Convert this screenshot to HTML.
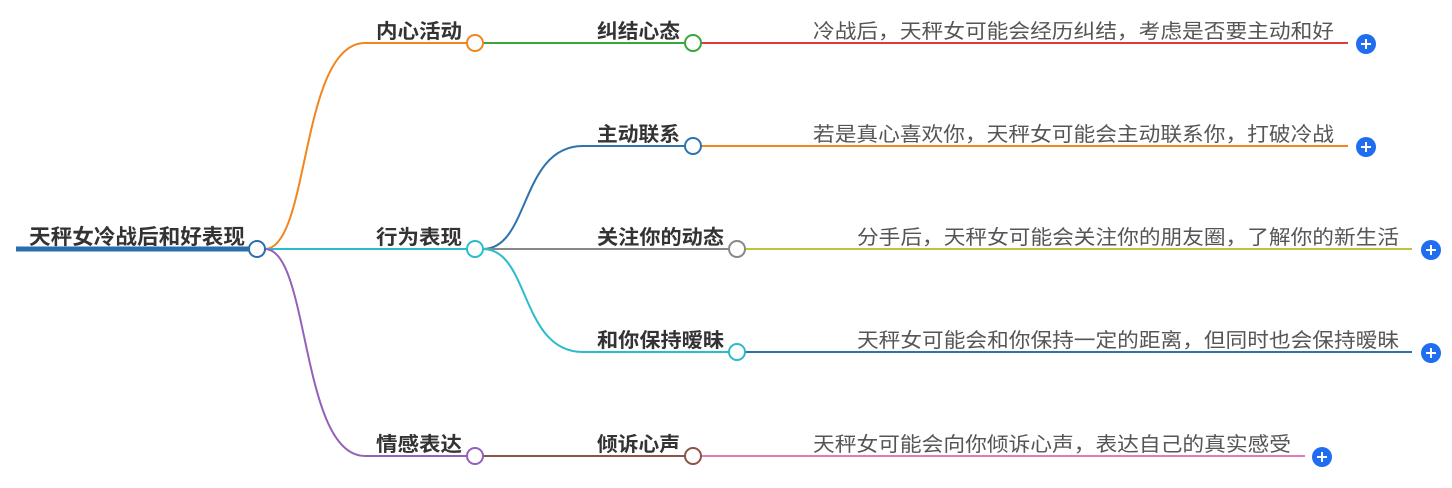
<!DOCTYPE html>
<html><head><meta charset="utf-8"><style>
html,body{margin:0;padding:0;background:#fff;width:1452px;height:488px;overflow:hidden}
svg{display:block}
.b{font-family:"Liberation Sans","Noto Sans CJK SC",sans-serif;font-weight:bold;fill:#333;font-size:20px}
.n{font-family:"Liberation Sans","Noto Sans CJK SC",sans-serif;fill:#555;font-size:20px}
</style></head><body>
<svg width="1452" height="488" viewBox="0 0 1452 488" xmlns="http://www.w3.org/2000/svg">
<g fill="none" stroke-width="2">
<line x1="16" y1="249" x2="252" y2="249" stroke="#2a6ead" stroke-width="5"/>
<path d="M265 249 C310 249 300 43 365 43 L467 43" stroke="#f0861e"/>
<path d="M265 249 L467 249" stroke="#2bbccb"/>
<path d="M265 249 C310 249 300 456 365 456 L467 456" stroke="#9560b8"/>
<path d="M483 43 L685 43" stroke="#3aa53a"/>
<path d="M483 249 C530 249 520 146 583 146 L685 146" stroke="#2e72ae"/>
<path d="M483 249 L729 249" stroke="#888"/>
<path d="M483 249 C530 249 520 352 583 352 L729 352" stroke="#2bbccb"/>
<path d="M483 456 L685 456" stroke="#8a5548"/>
<path d="M701 43 L1348 43" stroke="#e03a3e"/>
<path d="M701 146 L1348 146" stroke="#f0861e"/>
<path d="M745 249 L1412 249" stroke="#bfc23c"/>
<path d="M745 352 L1412 352" stroke="#2e72ae"/>
<path d="M701 456 L1305 456" stroke="#e57ab8"/>
</g>
<g fill="#fff" stroke-width="2">
<circle cx="257" cy="249" r="8" stroke="#2a6ead"/>
<circle cx="475" cy="43" r="8" stroke="#f0861e"/>
<circle cx="475" cy="249" r="8" stroke="#2bbccb"/>
<circle cx="475" cy="456" r="8" stroke="#9560b8"/>
<circle cx="693" cy="43" r="8" stroke="#3aa53a"/>
<circle cx="693" cy="146" r="8" stroke="#2e72ae"/>
<circle cx="737" cy="249" r="8" stroke="#888"/>
<circle cx="737" cy="352" r="8" stroke="#2bbccb"/>
<circle cx="693" cy="456" r="8" stroke="#8a5548"/>
</g>
<g>
<g transform="translate(1366,44)"><circle r="10" fill="#1f6ef0"/><path d="M-5 0H5M0 -5V5" stroke="#fff" stroke-width="2"/></g>
<g transform="translate(1366,147)"><circle r="10" fill="#1f6ef0"/><path d="M-5 0H5M0 -5V5" stroke="#fff" stroke-width="2"/></g>
<g transform="translate(1431,250)"><circle r="10" fill="#1f6ef0"/><path d="M-5 0H5M0 -5V5" stroke="#fff" stroke-width="2"/></g>
<g transform="translate(1431,353)"><circle r="10" fill="#1f6ef0"/><path d="M-5 0H5M0 -5V5" stroke="#fff" stroke-width="2"/></g>
<g transform="translate(1322,457)"><circle r="10" fill="#1f6ef0"/><path d="M-5 0H5M0 -5V5" stroke="#fff" stroke-width="2"/></g>
</g>
<text class="b" x="29" y="244" textLength="216" lengthAdjust="spacingAndGlyphs" style="font-size:21px">天秤女冷战后和好表现</text>
<text class="b" x="376" y="38" textLength="86" lengthAdjust="spacingAndGlyphs">内心活动</text>
<text class="b" x="376" y="244" textLength="86" lengthAdjust="spacingAndGlyphs">行为表现</text>
<text class="b" x="376" y="451" textLength="86" lengthAdjust="spacingAndGlyphs">情感表达</text>
<text class="b" x="597" y="38" textLength="83" lengthAdjust="spacingAndGlyphs">纠结心态</text>
<text class="b" x="597" y="141" textLength="83" lengthAdjust="spacingAndGlyphs">主动联系</text>
<text class="b" x="597" y="244" textLength="127" lengthAdjust="spacingAndGlyphs">关注你的动态</text>
<text class="b" x="597" y="347" textLength="127" lengthAdjust="spacingAndGlyphs">和你保持暧昧</text>
<text class="b" x="597" y="451" textLength="83" lengthAdjust="spacingAndGlyphs">倾诉心声</text>
<text class="n" x="813" y="38" textLength="521" lengthAdjust="spacingAndGlyphs">冷战后，天秤女可能会经历纠结，考虑是否要主动和好</text>
<text class="n" x="813" y="141" textLength="521" lengthAdjust="spacingAndGlyphs">若是真心喜欢你，天秤女可能会主动联系你，打破冷战</text>
<text class="n" x="857" y="244" textLength="542" lengthAdjust="spacingAndGlyphs">分手后，天秤女可能会关注你的朋友圈，了解你的新生活</text>
<text class="n" x="857" y="347" textLength="542" lengthAdjust="spacingAndGlyphs">天秤女可能会和你保持一定的距离，但同时也会保持暧昧</text>
<text class="n" x="813" y="451" textLength="478" lengthAdjust="spacingAndGlyphs">天秤女可能会向你倾诉心声，表达自己的真实感受</text>
</svg>
</body></html>
